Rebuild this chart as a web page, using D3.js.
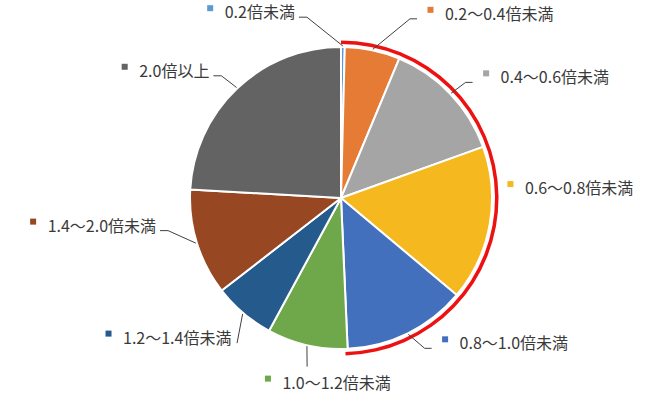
<!DOCTYPE html>
<html>
<head>
<meta charset="utf-8">
<script src="https://cdn.jsdelivr.net/npm/d3@7"></script>
<style>
  body { margin: 0; background: #fff; }
  .lbl { font-family: "Noto Sans CJK JP", "Noto Sans", sans-serif; font-size: 16px; fill: #3a3a3a; }
  .leader { fill: none; stroke: #404040; stroke-width: 1; }
</style>
</head>
<body>
<script>
// categories and shares (%), clockwise from 12 o'clock
const categories = ["0.2倍未満", "0.2～0.4倍未満", "0.4～0.6倍未満", "0.6～0.8倍未満", "0.8～1.0倍未満",
                    "1.0～1.2倍未満", "1.2～1.4倍未満", "1.4～2.0倍未満", "2.0倍以上"];
const shares = [0.4, 5.9, 13.2, 16.6, 13.2, 8.6, 6.6, 11.4, 24.1];
const colors = ["#5b9bd5", "#e57b34", "#a5a5a5", "#f5b91f", "#4370bd", "#6fa84a", "#245a8c", "#974823", "#636363"];
// the red band marks the slices below 1.0
const highlightUpTo = 4;

// label placement around the pie (offset from slice mid angle in degrees, radius, side)
const labelShift  = [-11.4, 9, 0.7, -11.9, -2.8, -1.6, -4.7, 6.6, -1];
const labelRadius = [184, 192, 170, 156, 172, 172, 178.5, 176, 171];
const labelMode   = ["L", "R", "R", "R0", "R", "B", "L0", "L", "L"];

const width = 660, height = 408;
const cx = 341, cy = 198, r = 151;

const svg = d3.select("body").append("svg")
    .attr("width", width)
    .attr("height", height);

const g = svg.append("g").attr("transform", "translate(" + cx + "," + cy + ")");

const pie = d3.pie().sort(null).value(d => d);
const arcs = pie(shares);
const arc = d3.arc().innerRadius(0).outerRadius(r);

g.selectAll(".slice")
  .data(arcs)
  .enter().append("path")
  .attr("class", "slice")
  .attr("d", arc)
  .attr("fill", (d, i) => colors[i])
  .attr("stroke", "#fff")
  .attr("stroke-width", 2)
  .attr("stroke-linejoin", "round");

// red outline band
const band = d3.arc().innerRadius(154).outerRadius(157.5)
  .startAngle(arcs[0].startAngle)
  .endAngle(arcs[highlightUpTo].endAngle + 0.015);
g.append("path").attr("d", band()).attr("fill", "#ee1111");

function polar(a, rad) {
  return [rad * Math.sin(a), -rad * Math.cos(a)];
}

const deg = Math.PI / 180;
const labels = g.append("g");

arcs.forEach((d, i) => {
  const mid = (d.startAngle + d.endAngle) / 2;
  const edge = polar(mid, r + 1);
  const elbow = polar(mid + labelShift[i] * deg, labelRadius[i]);
  const mode = labelMode[i];
  let pts = [edge, elbow], tx, ty, anchor;

  if (mode === "L") {
    const end = [elbow[0] - 8, elbow[1]];
    pts.push(end);
    tx = end[0] - 4; ty = end[1] - 4.5; anchor = "end";
  } else if (mode === "R") {
    const end = [elbow[0] + 7, elbow[1]];
    pts.push(end);
    tx = end[0] + 28; ty = end[1] - 4.5; anchor = "start";
  } else if (mode === "R0") {
    pts = null;
    tx = elbow[0] + 28; ty = elbow[1] - 4.5; anchor = "start";
  } else if (mode === "B") {
    tx = elbow[0] - 24.7; ty = elbow[1] + 16.5; anchor = "start";
  } else {
    tx = elbow[0] - 5.6; ty = elbow[1] - 5; anchor = "end";
  }

  if (pts) {
    labels.append("path")
      .attr("class", "leader")
      .attr("d", d3.line()(pts));
  }

  const t = labels.append("text")
    .attr("class", "lbl")
    .attr("x", tx)
    .attr("y", ty)
    .attr("dy", "0.35em")
    .attr("text-anchor", anchor)
    .text(categories[i]);

  const w = t.node().getComputedTextLength();
  const start = anchor === "end" ? tx - w : tx;
  labels.append("rect")
    .attr("x", start - 17.5)
    .attr("y", ty - 7.5)
    .attr("width", 6)
    .attr("height", 6)
    .attr("fill", colors[i]);
});
</script>
</body>
</html>
